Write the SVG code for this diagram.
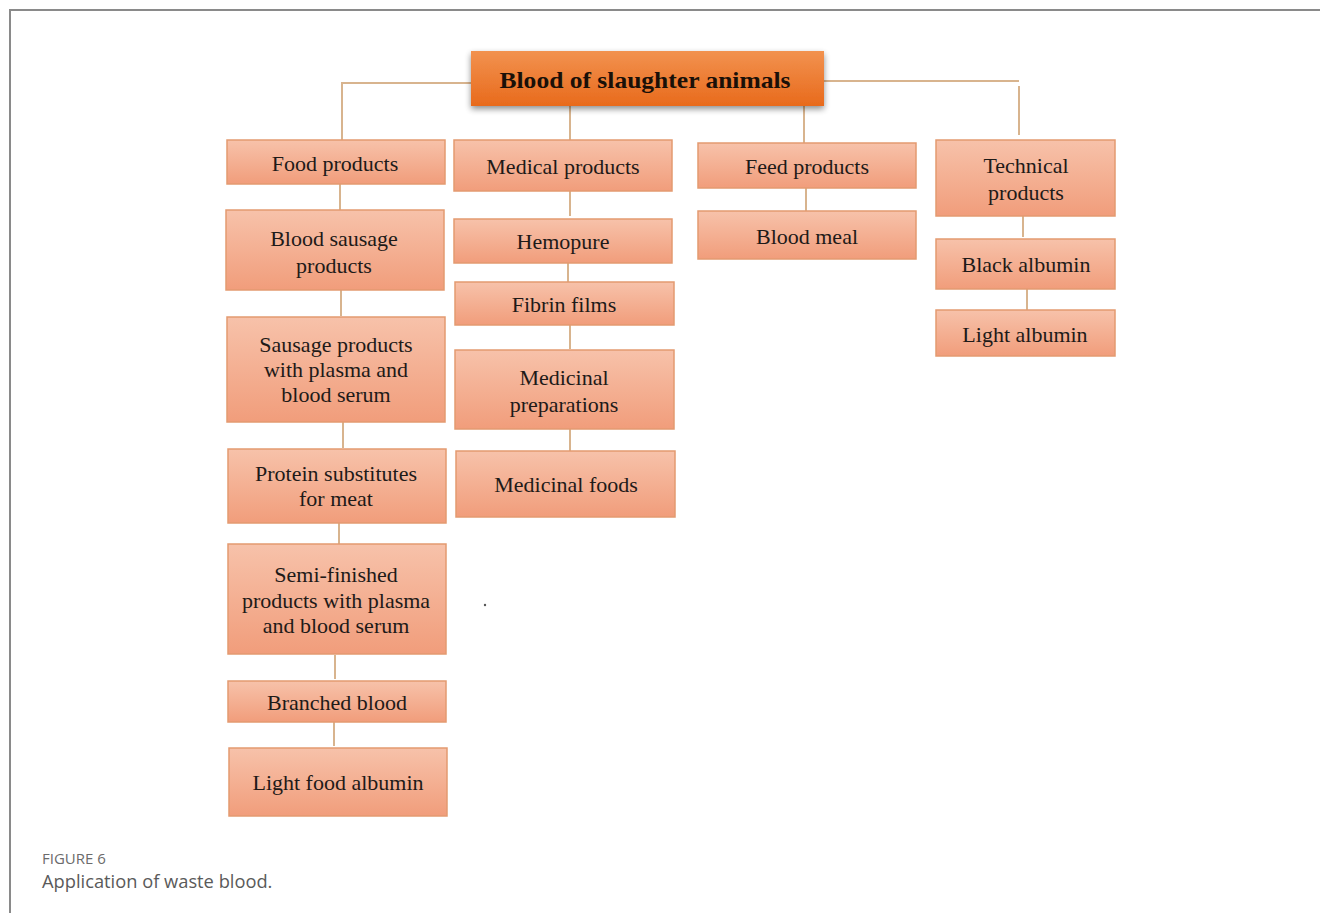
<svg xmlns="http://www.w3.org/2000/svg" width="1320" height="913" viewBox="0 0 1320 913">
<defs>
<linearGradient id="boxg" x1="0" y1="0" x2="0" y2="1">
<stop offset="0" stop-color="#f7c2aa"/>
<stop offset="1" stop-color="#f19d7b"/>
</linearGradient>
<linearGradient id="topg" x1="0" y1="0" x2="0" y2="1">
<stop offset="0" stop-color="#f2924f"/>
<stop offset="1" stop-color="#e86a1c"/>
</linearGradient>
<filter id="sh" x="-10%" y="-30%" width="120%" height="170%">
<feGaussianBlur in="SourceAlpha" stdDeviation="3"/>
<feOffset dx="0" dy="3"/>
<feComponentTransfer><feFuncA type="linear" slope="0.45"/></feComponentTransfer>
<feMerge><feMergeNode/><feMergeNode in="SourceGraphic"/></feMerge>
</filter>
</defs>
<style>
.box{fill:url(#boxg);stroke:#e39a70;stroke-width:1.5}
.t{font-family:"Liberation Serif","Times New Roman",serif;font-size:22px;fill:#1e1a18;text-anchor:middle}
.c{stroke:#d8b48e;stroke-width:2;fill:none}
.frame{stroke:#8a8a8a;stroke-width:2;fill:none}
.cap1{font-family:"Open Sans","Noto Sans",sans-serif;font-size:15px;fill:#6b6b6b}
.cap2{font-family:"Open Sans","Noto Sans",sans-serif;font-size:18.3px;fill:#5a5a5a}
</style>
<rect width="1320" height="913" fill="#ffffff"/>
<path class="frame" d="M10,913 V10 H1320"/>

<g id="connectors">
<path class="c" d="M471,83 H342 V140"/>
<path class="c" d="M570,106 V140"/>
<path class="c" d="M824,81 H1019"/>
<path class="c" d="M1019,86 V135"/>
<path class="c" d="M804,98 V143"/>
<path class="c" d="M340,184 V210"/>
<path class="c" d="M341,290 V316"/>
<path class="c" d="M343,422 V448"/>
<path class="c" d="M339,523 V544"/>
<path class="c" d="M335,655 V679"/>
<path class="c" d="M334,722 V746"/>
<path class="c" d="M570,191 V216"/>
<path class="c" d="M568,263 V282"/>
<path class="c" d="M570,325 V349"/>
<path class="c" d="M570,429 V451"/>
<path class="c" d="M806,188 V211"/>
<path class="c" d="M1023,216 V237"/>
<path class="c" d="M1027,289 V310"/>
</g>

<g id="root">
<rect x="471" y="51" width="353" height="55" fill="url(#topg)" filter="url(#sh)"/>
<text x="645" y="88" font-family="'Liberation Serif','Times New Roman',serif" font-size="24" font-weight="bold" fill="#1a1008" text-anchor="middle" textLength="291" lengthAdjust="spacingAndGlyphs">Blood of slaughter animals</text>
</g>

<g id="food-products"><rect class="box" x="227" y="140" width="218" height="44"/><text class="t" x="335" y="171">Food products</text></g>
<g id="blood-sausage"><rect class="box" x="226" y="210" width="218" height="80"/><text class="t" x="334" y="246">Blood sausage</text><text class="t" x="334" y="273">products</text></g>
<g id="sausage-plasma"><rect class="box" x="227" y="317" width="218" height="105"/><text class="t" x="336" y="352">Sausage products</text><text class="t" x="336" y="377">with plasma and</text><text class="t" x="336" y="402">blood serum</text></g>
<g id="protein-substitutes"><rect class="box" x="228" y="449" width="218" height="74"/><text class="t" x="336" y="481">Protein substitutes</text><text class="t" x="336" y="506">for meat</text></g>
<g id="semi-finished"><rect class="box" x="228" y="544" width="218" height="110"/><text class="t" x="336" y="582">Semi-finished</text><text class="t" x="336" y="608">products with plasma</text><text class="t" x="336" y="633">and blood serum</text></g>
<g id="branched-blood"><rect class="box" x="228" y="681" width="218" height="41"/><text class="t" x="337" y="710">Branched blood</text></g>
<g id="light-food-albumin"><rect class="box" x="229" y="748" width="218" height="68"/><text class="t" x="338" y="790">Light food albumin</text></g>

<g id="medical-products"><rect class="box" x="454" y="140" width="218" height="51"/><text class="t" x="563" y="174">Medical products</text></g>
<g id="hemopure"><rect class="box" x="454" y="219" width="218" height="44"/><text class="t" x="563" y="249">Hemopure</text></g>
<g id="fibrin-films"><rect class="box" x="455" y="282" width="219" height="43"/><text class="t" x="564" y="312">Fibrin films</text></g>
<g id="medicinal-preparations"><rect class="box" x="455" y="350" width="219" height="79"/><text class="t" x="564" y="385">Medicinal</text><text class="t" x="564" y="412">preparations</text></g>
<g id="medicinal-foods"><rect class="box" x="456" y="451" width="219" height="66"/><text class="t" x="566" y="492">Medicinal foods</text></g>

<g id="feed-products"><rect class="box" x="698" y="143" width="218" height="45"/><text class="t" x="807" y="174">Feed products</text></g>
<g id="blood-meal"><rect class="box" x="698" y="211" width="218" height="48"/><text class="t" x="807" y="244">Blood meal</text></g>

<g id="technical-products"><rect class="box" x="936" y="140" width="179" height="76"/><text class="t" x="1026" y="173">Technical</text><text class="t" x="1026" y="200">products</text></g>
<g id="black-albumin"><rect class="box" x="936" y="239" width="179" height="50"/><text class="t" x="1026" y="272">Black albumin</text></g>
<g id="light-albumin"><rect class="box" x="936" y="310" width="179" height="46"/><text class="t" x="1025" y="342">Light albumin</text></g>

<circle cx="485" cy="605" r="1.2" fill="#555"/>

<text class="cap1" x="42" y="864">FIGURE 6</text>
<text class="cap2" x="42" y="888">Application of waste blood.</text>
</svg>
